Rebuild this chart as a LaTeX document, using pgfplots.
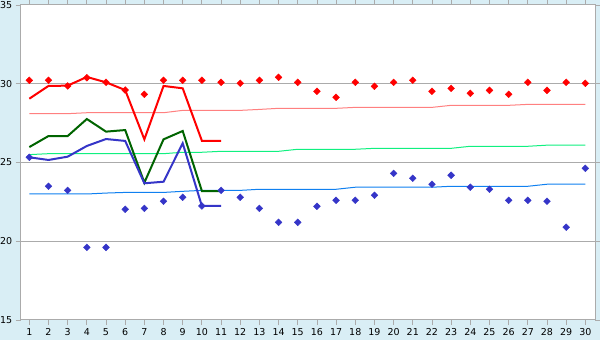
\documentclass[border=0pt]{standalone}
\usepackage{pgfplots}
\pgfplotsset{compat=1.18}
\usepackage{fontspec}
\setmainfont{DejaVu Sans}
\definecolor{bgc}{HTML}{D9EEF5}
\definecolor{gridc}{HTML}{ABABAB}
\definecolor{tred}{HTML}{FF0000}
\definecolor{tgreen}{HTML}{006400}
\definecolor{tblue}{HTML}{3535C8}
\definecolor{nred}{HTML}{FF8080}
\definecolor{ngreen}{HTML}{10F080}
\definecolor{nblue}{HTML}{1080F0}
\begin{document}
\begin{tikzpicture}[x=1pt,y=1pt]
\fill[bgc] (0,0) rectangle (600,340);
\begin{axis}[
  at={(20.7pt,20pt)}, anchor=south west,
  scale only axis, width=574.6pt, height=315pt,
  xmin=0.55, xmax=30.52, ymin=15, ymax=35,
  axis background/.style={fill=white},
  axis line style={gridc, line width=1pt},
  xtick={1,...,30}, ytick={15,20,25,30,35},
  tick align=outside, tick style={gridc, line width=0.8pt},
  major tick length=5pt,
  ymajorgrids, grid style={gridc, line width=1pt},
  every tick label/.append style={font=\fontsize{9.5}{10}\selectfont, text=black},
  /pgf/number format/assume math mode=true,
  clip=false,
]
% normals
\addplot[nred, line width=1pt] coordinates {(1,28.10)(2,28.10)(3,28.10)(4,28.16)(5,28.16)(6,28.16)(7,28.16)(8,28.16)(9,28.31)(10,28.31)(11,28.31)(12,28.31)(13,28.37)(14,28.44)(15,28.44)(16,28.44)(17,28.44)(18,28.50)(19,28.50)(20,28.50)(21,28.50)(22,28.50)(23,28.63)(24,28.63)(25,28.63)(26,28.63)(27,28.69)(28,28.69)(29,28.69)(30,28.69)};
\addplot[ngreen, line width=1pt] coordinates {(1,25.50)(2,25.56)(3,25.56)(4,25.56)(5,25.56)(6,25.56)(7,25.56)(8,25.56)(9,25.65)(10,25.65)(11,25.71)(12,25.71)(13,25.71)(14,25.71)(15,25.84)(16,25.84)(17,25.84)(18,25.84)(19,25.90)(20,25.90)(21,25.90)(22,25.90)(23,25.90)(24,26.03)(25,26.03)(26,26.03)(27,26.03)(28,26.10)(29,26.10)(30,26.10)};
\addplot[nblue, line width=1pt] coordinates {(1,23.00)(2,23.00)(3,23.00)(4,23.00)(5,23.06)(6,23.10)(7,23.10)(8,23.10)(9,23.17)(10,23.23)(11,23.23)(12,23.23)(13,23.30)(14,23.30)(15,23.30)(16,23.30)(17,23.30)(18,23.43)(19,23.43)(20,23.43)(21,23.43)(22,23.43)(23,23.49)(24,23.49)(25,23.49)(26,23.49)(27,23.49)(28,23.62)(29,23.62)(30,23.62)};
% observed lines
\addplot[tred, line width=2pt] coordinates {(1,29.05)(2,29.86)(3,29.88)(4,30.43)(5,30.09)(6,29.60)(7,26.47)(8,29.86)(9,29.71)(10,26.38)(11,26.38)};
\addplot[tgreen, line width=2pt] coordinates {(1,25.98)(2,26.68)(3,26.68)(4,27.76)(5,26.96)(6,27.06)(7,23.72)(8,26.47)(9,27.00)(10,23.19)(11,23.19)};
\addplot[tblue, line width=2pt] coordinates {(1,25.33)(2,25.16)(3,25.37)(4,26.05)(5,26.49)(6,26.37)(7,23.68)(8,23.78)(9,26.22)(10,22.24)(11,22.24)};
% diamonds
\addplot[only marks, mark=square*, mark size=2.4pt, mark options={rotate=45}, color=tred] coordinates {(1,30.22)(2,30.22)(3,29.86)(4,30.38)(5,30.09)(6,29.60)(7,29.33)(8,30.22)(9,30.22)(10,30.22)(11,30.09)(12,30.03)(13,30.22)(14,30.41)(15,30.09)(16,29.52)(17,29.14)(18,30.09)(19,29.84)(20,30.09)(21,30.22)(22,29.52)(23,29.71)(24,29.39)(25,29.58)(26,29.33)(27,30.09)(28,29.58)(29,30.09)(30,30.03)};
\addplot[only marks, mark=square*, mark size=2.4pt, mark options={rotate=45}, color=tblue] coordinates {(1,25.33)(2,23.49)(3,23.23)(4,19.61)(5,19.61)(6,22.03)(7,22.09)(8,22.54)(9,22.79)(10,22.24)(11,23.23)(12,22.79)(13,22.09)(14,21.20)(15,21.20)(16,22.22)(17,22.60)(18,22.60)(19,22.92)(20,24.31)(21,24.00)(22,23.62)(23,24.19)(24,23.43)(25,23.30)(26,22.60)(27,22.60)(28,22.54)(29,20.89)(30,24.63)};
\end{axis}
\pgfresetboundingbox
\useasboundingbox (0,0) rectangle (600,340);
\end{tikzpicture}
\end{document}
